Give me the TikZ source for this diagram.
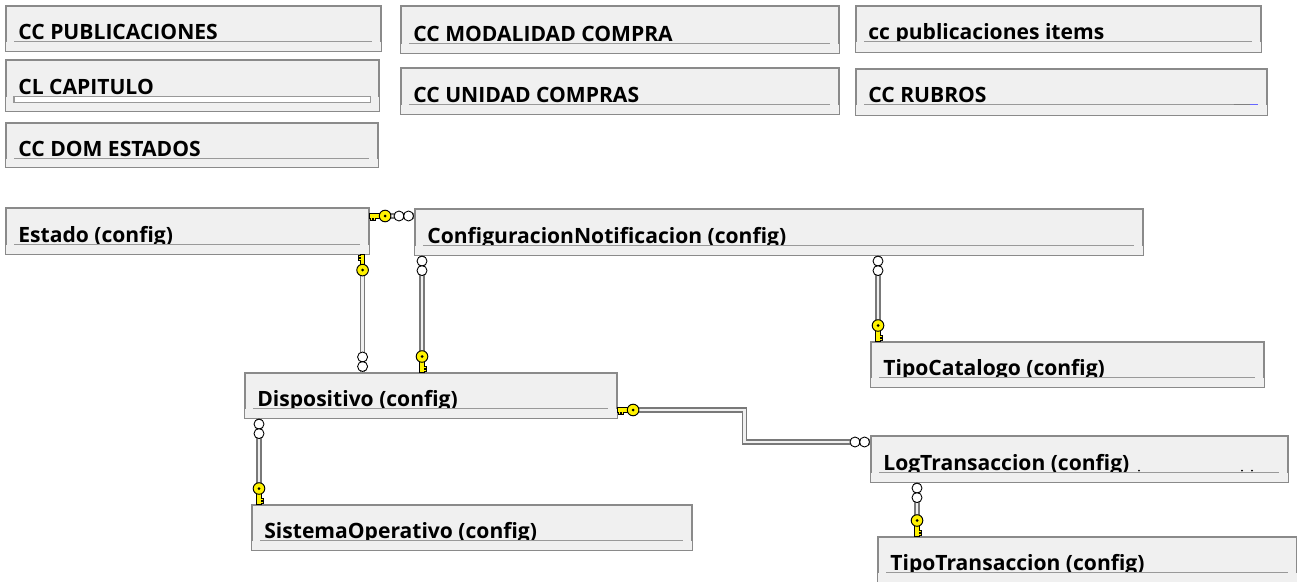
\documentclass[tikz,border=0pt]{standalone}
\usepackage{fontspec}
\setmainfont{Open Sans}
\usetikzlibrary{calc}
\definecolor{fondotabla}{HTML}{F0F0F0}
\definecolor{bordetabla}{HTML}{8A8A8A}
\definecolor{lineagris}{HTML}{999999}
\newcommand{\upx}{0.02cm}
\tikzset{
  tabla/.style={draw=bordetabla, fill=fondotabla, line width=0.9pt, inner sep=0pt, anchor=north west},
  titulo/.style={font=\bfseries\fontsize{12}{14}\selectfont, anchor=base west, inner sep=0pt},
  subraya/.style={draw=lineagris, line width=1pt},
  rel/.style={draw=gray!95!black, double=white!88!gray, double distance=1.5pt, line width=0.75pt},
  llave/.pic={
    \draw[line width=0.55pt, fill=yellow] (0,-2.3) -- (11,-2.3) -- (11,2.3) -- (6,2.3) -- (6,4)
      -- (4,4) -- (4,2.3) -- (2.5,2.3) -- (2.5,4) -- (0.5,4) -- (0.5,2.3) -- (0,2.3) -- cycle;
    \draw[line width=0.55pt, fill=yellow] (15.5,0) circle (5.8);
    \fill (15.5,0) circle (1.5);
  },
  patas/.pic={
    \draw[line width=0.5pt, fill=white] (15,0) circle (5) (5.5,0) circle (5);
  }
}
\begin{document}
\begin{tikzpicture}[x=0.02cm, y=-0.02cm]
  \useasboundingbox (0,0) rectangle (1297,581);
  \clip (0,0) rectangle (1297,581);

  % Tablas
  \foreach \n/\a/\b/\w/\h/\d/\txt in {
      pub/5/5/375/45/12/CC PUBLICACIONES,
      cap/5/59/373/51/17/CL CAPITULO,
      dom/5/122/372/44/11/CC DOM ESTADOS,
      mod/400/5/438/47/12/CC MODALIDAD COMPRA,
      uni/400/67/438/46/12/CC UNIDAD COMPRAS,
      items/855/5/405/46/13/cc publicaciones items,
      rubros/855/68/411/46/13/CC RUBROS,
      estado/5/207/363/46/12/Estado (config),
      confnot/414/208/728/46/12/ConfiguracionNotificacion (config),
      tipocat/870/341/393/45/12/TipoCatalogo (config),
      disp/244/372/372/45/12/Dispositivo (config),
      log/870/435/417/46/12/LogTransaccion (config),
      so/251/504/440/45/12/SistemaOperativo (config),
      tt/877/536/419/46/13/TipoTransaccion (config)} {
    \node[tabla, minimum width=\w*\upx, minimum height=\h*\upx] (\n) at (\a,\b) {};
    \node[titulo] (\n-t) at ($(\n.south west)+(13,-\d)$) {\txt};
    \fill[fondotabla] ($(\n.south west)+(1,-\d+2)$) rectangle ($(\n.south east)+(-1,-1)$);
    \draw[subraya] ($(\n.south west)+(9,-\d+2)$) -- ($(\n.south east)+(-10,-\d+2)$);
  }
  % detalles de los subrayados
  \draw[lineagris, line width=0.7pt, fill=white] ($(cap.south west)+(9,-15)$) rectangle ($(cap.south east)+(-9,-9)$);
  \draw[gray, line width=1pt] ($(rubros.south east)+(-34,-11)$) -- ($(rubros.south east)+(-18,-11)$);
  \draw[blue!60, line width=1pt] ($(rubros.south east)+(-18,-11)$) -- ($(rubros.south east)+(-10,-11)$);
  \fill ($(log.south west)+(269,-12)$) circle (1);
  \fill ($(log.south west)+(372,-12)$) circle (1);
  \fill ($(log.south west)+(382,-12)$) circle (1);

  % Relaciones
  \coordinate (a1) at ($(estado.north east)+(0,9)$);
  \draw[rel] (a1) -- (a1 -| confnot.west);
  \pic at (a1) {llave};
  \pic[rotate=180] at (a1 -| confnot.west) {patas};

  \coordinate (b1) at ($(estado.south east)+(-7,0)$);
  \draw[rel] (b1) -- (b1 |- disp.north);
  \pic[rotate=-90] at (b1) {llave};
  \pic[rotate=90] at (b1 |- disp.north) {patas};

  \coordinate (c1) at ($(confnot.south west)+(8,0)$);
  \draw[rel] (c1) -- (c1 |- disp.north);
  \pic[rotate=-90] at (c1) {patas};
  \pic[rotate=90] at (c1 |- disp.north) {llave};

  \coordinate (d1) at ($(tipocat.north west)+(8,0)$);
  \draw[rel] (d1 |- confnot.south) -- (d1);
  \pic[rotate=-90] at (d1 |- confnot.south) {patas};
  \pic[rotate=90] at (d1) {llave};

  \coordinate (e1) at ($(disp.north east)+(0,38)$);
  \coordinate (e2) at ($(log.north west)+(0,7)$);
  \draw[rel] (e1) -- ++(127,0) |- (e2);
  \pic at (e1) {llave};
  \pic[rotate=180] at (e2) {patas};

  \coordinate (f1) at ($(disp.south west)+(15,0)$);
  \draw[rel] (f1) -- (f1 |- so.north);
  \pic[rotate=-90] at (f1) {patas};
  \pic[rotate=90] at (f1 |- so.north) {llave};

  \coordinate (g1) at ($(log.south west)+(47,0)$);
  \draw[rel] (g1) -- (g1 |- tt.north);
  \pic[rotate=-90] at (g1) {patas};
  \pic[rotate=90] at (g1 |- tt.north) {llave};
\end{tikzpicture}
\end{document}
